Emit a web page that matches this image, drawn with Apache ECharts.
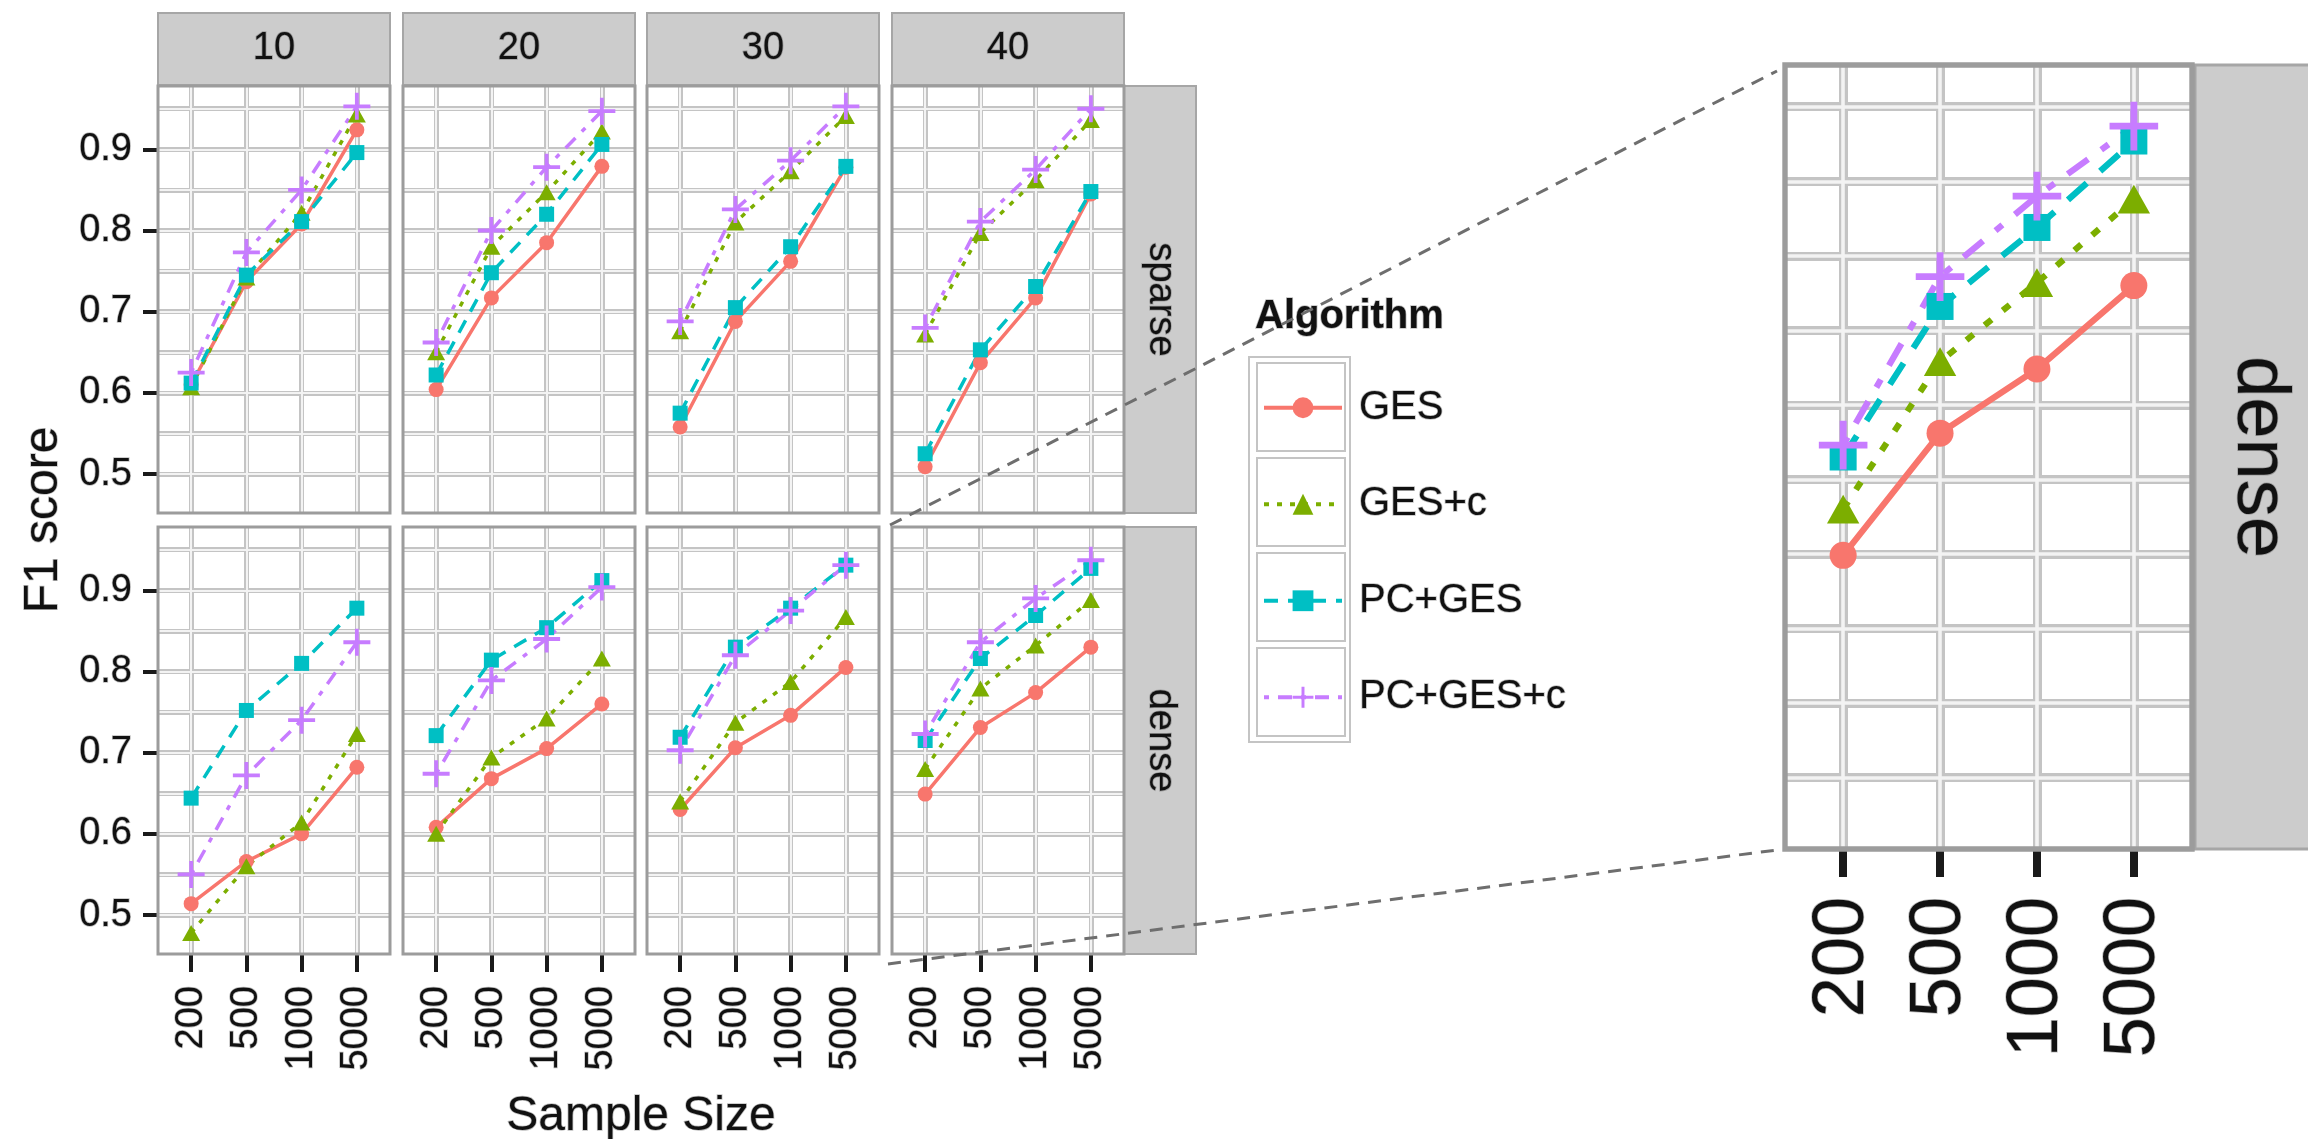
<!DOCTYPE html>
<html><head><meta charset="utf-8">
<script src="https://cdn.jsdelivr.net/npm/echarts@6/dist/echarts.min.js"></script>
<style>html,body{margin:0;padding:0;background:#fff}#c{width:2308px;height:1139px}</style>
</head><body><div id="c"></div>
<script>
// ---------------- data ----------------
const sampleSizes = ['200', '500', '1000', '5000'];
const nodeCounts = ['10', '20', '30', '40'];
const densities = ['sparse', 'dense'];
const algorithms = ['GES', 'GES+c', 'PC+GES', 'PC+GES+c'];
const yMajorTicks = [0.5, 0.6, 0.7, 0.8, 0.9];
const yGridTicks = [0.5, 0.55, 0.6, 0.65, 0.7, 0.75, 0.8, 0.85, 0.9, 0.95];
const xTickIdx = [0, 1, 2, 3];

// rows: node count 10, 20, 30, 40 ; columns: sample size 200, 500, 1000, 5000
const gesSparse   = [[0.610, 0.737, 0.808, 0.924], [0.604, 0.717, 0.785, 0.879], [0.558, 0.688, 0.762, 0.878], [0.509, 0.637, 0.717, 0.845]];
const gescSparse  = [[0.607, 0.742, 0.822, 0.943], [0.650, 0.780, 0.847, 0.922], [0.676, 0.810, 0.873, 0.941], [0.672, 0.797, 0.862, 0.936]];
const pcgesSparse = [[0.612, 0.745, 0.811, 0.896], [0.622, 0.748, 0.820, 0.906], [0.575, 0.705, 0.780, 0.879], [0.525, 0.653, 0.731, 0.848]];
const pcgescSparse= [[0.625, 0.773, 0.850, 0.953], [0.662, 0.800, 0.878, 0.947], [0.688, 0.826, 0.886, 0.953], [0.680, 0.811, 0.875, 0.950]];
const gesDense    = [[0.514, 0.566, 0.600, 0.682], [0.608, 0.668, 0.705, 0.760], [0.630, 0.706, 0.746, 0.805], [0.649, 0.731, 0.774, 0.830]];
const gescDense   = [[0.478, 0.560, 0.614, 0.723], [0.600, 0.694, 0.742, 0.816], [0.640, 0.737, 0.787, 0.867], [0.680, 0.779, 0.832, 0.888]];
const pcgesDense  = [[0.644, 0.752, 0.810, 0.878], [0.721, 0.814, 0.854, 0.912], [0.719, 0.830, 0.878, 0.931], [0.715, 0.816, 0.869, 0.927]];
const pcgescDense = [[0.550, 0.672, 0.740, 0.836], [0.674, 0.789, 0.840, 0.904], [0.703, 0.820, 0.875, 0.931], [0.723, 0.836, 0.890, 0.937]];

// ---------------- style / layout ----------------
const FONT = '"Liberation Sans", Arial, Helvetica, sans-serif';
const HALO = {textBorderColor: 'rgba(70,70,70,0.35)', textBorderWidth: 1.5};
const COLORS = ['#F8766D', '#7CAE00', '#00BFC4', '#C77CFF'];
const PLUS = 'path://M-1.7,-12H1.7V-1.7H12V1.7H1.7V12H-1.7V1.7H-12V-1.7H-1.7Z';
const SYMBOLS = ['circle', 'triangle', 'rect', PLUS];
const SYM_SIZE = [15, [18, 16], 15, 27];
const DASHES = [null, [5, 8], [14, 10], [5, 9, 14, 9]];
const Y_MIN = 0.452, Y_MAX = 0.978, X_MIN = -0.6, X_MAX = 3.6;

const COL_X = [158, 403, 647, 892], PANEL_W = 232;
const ROW_Y = [86, 527], PANEL_H = 427;
const STRIP_TOP = 13, STRIP_H = 72, RSTRIP_X = 1124, RSTRIP_W = 72;
const BIG = {x: 1785, y: 65, w: 407, h: 784};
const BIG_K = 1.8;

const bySeries = {
  sparse: [gesSparse, gescSparse, pcgesSparse, pcgescSparse],
  dense: [gesDense, gescDense, pcgesDense, pcgescDense]
};

const grids = [], xAxes = [], yAxes = [], series = [];

function addPanel(rect, vals, k, showY, showX, fs, tickW, tickL, xMargin) {
  const gi = grids.length;
  grids.push({left: rect.x, top: rect.y, width: rect.w, height: rect.h, show: true,
    borderColor: '#9c9c9c', borderWidth: 3 * k, backgroundColor: 'transparent', z: 2});
  const xi = xAxes.length, yi = yAxes.length;
  const xb = {type: 'value', gridIndex: gi, position: 'bottom', offset: 0, min: X_MIN, max: X_MAX, axisLine: {show: false}};
  xAxes.push(Object.assign({}, xb, {z: 0,
    axisTick: {show: false, customValues: xTickIdx}, axisLabel: {show: false},
    splitLine: {show: true, lineStyle: {color: '#c4c4c4', width: 5 * k}}}));
  xAxes.push(Object.assign({}, xb, {z: 1,
    axisTick: {show: showX, customValues: xTickIdx, length: tickL, lineStyle: {color: '#1a1a1a', width: tickW}},
    axisLabel: Object.assign({show: showX, customValues: xTickIdx, rotate: 90, margin: xMargin,
      formatter: v => sampleSizes[Math.round(v)], fontSize: fs, fontFamily: FONT, color: '#111'}, HALO),
    splitLine: {show: true, lineStyle: {color: '#f3f3f3', width: 2 * k}}}));
  const yb = {type: 'value', gridIndex: gi, position: 'left', offset: 0, min: Y_MIN, max: Y_MAX, axisLine: {show: false}};
  yAxes.push(Object.assign({}, yb, {z: 0,
    axisTick: {show: false, customValues: yGridTicks}, axisLabel: {show: false},
    splitLine: {show: true, lineStyle: {color: '#c4c4c4', width: 5 * k}}}));
  yAxes.push(Object.assign({}, yb, {z: 1,
    axisTick: {show: false, customValues: yGridTicks}, axisLabel: {show: false},
    splitLine: {show: true, lineStyle: {color: '#f3f3f3', width: 2 * k}}}));
  yAxes.push(Object.assign({}, yb, {z: 1,
    axisTick: {show: showY, customValues: yMajorTicks, length: 15, lineStyle: {color: '#1a1a1a', width: 4}},
    axisLabel: Object.assign({show: showY, customValues: yMajorTicks, margin: 26,
      formatter: v => v.toFixed(1), fontSize: fs, fontFamily: FONT, color: '#111'}, HALO),
    splitLine: {show: false}}));
  algorithms.forEach((name, ai) => {
    const sz = SYM_SIZE[ai];
    series.push({
      type: 'line', name: name, xAxisIndex: xi + 1, yAxisIndex: yi + 2,
      data: vals[ai].map((v, i) => [i, v]),
      symbol: SYMBOLS[ai],
      symbolSize: Array.isArray(sz) ? sz.map(s => s * k) : sz * k,
      showSymbol: true,
      lineStyle: {color: COLORS[ai], width: 3.5 * k, type: DASHES[ai] ? DASHES[ai].map(d => d * k) : 'solid'},
      itemStyle: {color: COLORS[ai]},
      z: 3, animation: false, silent: true
    });
  });
}

densities.forEach((d, r) => {
  nodeCounts.forEach((n, c) => {
    const vals = bySeries[d].map(a => a[c]);
    addPanel({x: COL_X[c], y: ROW_Y[r], w: PANEL_W, h: PANEL_H}, vals, 1,
      c === 0, r === 1, 38, 4, 18, 32);
  });
});
// magnified copy of the dense / 40 panel
addPanel(BIG, bySeries.dense.map(a => a[3]), BIG_K, false, true, 72, 8, 28, 48);

// ---------------- decorations ----------------
const graphics = [];
const txt = (x, y, t, fs, rot, extra) => ({type: 'text', x: x, y: y, rotation: rot || 0, z: 6,
  style: Object.assign({text: t, fontSize: fs, fontFamily: FONT, fill: '#111', align: 'center', verticalAlign: 'middle',
    stroke: 'rgba(70,70,70,0.35)', lineWidth: 1.5}, extra || {})});

nodeCounts.forEach((t, c) => {
  graphics.push({type: 'rect', z: 1, shape: {x: COL_X[c], y: STRIP_TOP, width: PANEL_W, height: STRIP_H},
    style: {fill: '#cccccc', stroke: '#a6a6a6', lineWidth: 2}});
  graphics.push(txt(COL_X[c] + PANEL_W / 2, STRIP_TOP + STRIP_H / 2, t, 38));
});
densities.forEach((d, r) => {
  graphics.push({type: 'rect', z: 1, shape: {x: RSTRIP_X, y: ROW_Y[r], width: RSTRIP_W, height: PANEL_H},
    style: {fill: '#cccccc', stroke: '#a6a6a6', lineWidth: 2}});
  graphics.push(txt(RSTRIP_X + RSTRIP_W / 2, ROW_Y[r] + PANEL_H / 2, d, 38, -Math.PI / 2));
});
graphics.push({type: 'rect', z: 1, shape: {x: BIG.x + BIG.w + 3, y: BIG.y, width: 140, height: BIG.h},
  style: {fill: '#cccccc', stroke: '#a6a6a6', lineWidth: 3}});
graphics.push(txt(BIG.x + BIG.w + 3 + 63, BIG.y + BIG.h / 2, 'dense', 74, -Math.PI / 2));

// axis titles
graphics.push(txt(44, (ROW_Y[0] + ROW_Y[1] + PANEL_H) / 2, 'F1 score', 48, Math.PI / 2));
graphics.push(txt((COL_X[0] + RSTRIP_X) / 2, 1117, 'Sample Size', 48));

// legend key boxes
const LEG = {x: 1257, y: 363, key: 88, pitch: 95};
graphics.push({type: 'rect', z: 1, shape: {x: LEG.x - 8, y: LEG.y - 6, width: LEG.key + 13, height: LEG.pitch * 3 + LEG.key + 12},
  style: {fill: '#ffffff', stroke: '#c4c4c4', lineWidth: 2}});
algorithms.forEach((a, i) => {
  graphics.push({type: 'rect', z: 2, shape: {x: LEG.x, y: LEG.y + i * LEG.pitch, width: LEG.key, height: LEG.key},
    style: {fill: '#ffffff', stroke: '#c4c4c4', lineWidth: 2}});
});

const option = {
  backgroundColor: '#ffffff',
  animation: false,
  title: {text: 'Algorithm', left: 1255, top: 297, padding: 0,
    textStyle: Object.assign({fontSize: 40, fontWeight: 'bold', fontFamily: FONT, color: '#111'}, HALO)},
  legend: {
    orient: 'vertical', left: LEG.x + 5, top: LEG.y + 24, padding: 0,
    itemGap: 55, itemWidth: 78, itemHeight: 26, selectedMode: false,
    lineStyle: {width: 4},
    textStyle: Object.assign({fontSize: 40, fontFamily: FONT, color: '#111', padding: [0, 0, 0, 12]}, HALO),
    data: algorithms, z: 5
  },
  grid: grids, xAxis: xAxes, yAxis: yAxes, series: series,
  graphic: {elements: graphics}
};

const chart = echarts.init(document.getElementById('c'), null, {renderer: 'canvas'});
chart.setOption(option);

// zoom connector lines, anchored on the two panels through the axes
const smallGrid = 7, bigGrid = 8;
const sTL = chart.convertToPixel({gridIndex: smallGrid}, [X_MIN, Y_MAX]);
const sBL = chart.convertToPixel({gridIndex: smallGrid}, [X_MIN, Y_MIN]);
const bTL = chart.convertToPixel({gridIndex: bigGrid}, [X_MIN, Y_MAX]);
const bBL = chart.convertToPixel({gridIndex: bigGrid}, [X_MIN, Y_MIN]);
const dash = {stroke: '#6e6e6e', lineWidth: 3, lineDash: [13, 9]};
chart.setOption({graphic: {elements: graphics.concat([
  {type: 'line', z: 50, shape: {x1: sTL[0] - 2, y1: sTL[1] - 2, x2: bTL[0] - 8, y2: bTL[1] + 6}, style: dash},
  {type: 'line', z: 50, shape: {x1: sBL[0] - 4, y1: sBL[1] + 10, x2: bBL[0] - 8, y2: bBL[1] + 1}, style: dash}
])}});
</script>
</body></html>
